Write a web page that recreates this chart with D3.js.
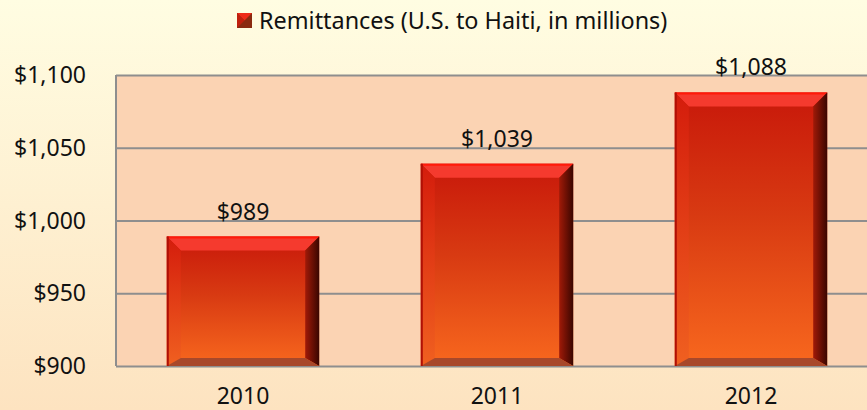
<!DOCTYPE html>
<html>
<head>
<meta charset="utf-8">
<script src="https://cdn.jsdelivr.net/npm/d3@7"></script>
<style>
  body { margin: 0; }
  text { font-family: "Noto Sans", "Open Sans", sans-serif; fill: #111; }
</style>
</head>
<body>
<svg id="chart" width="867" height="410"></svg>
<script>
(function () {
    var width = 867, height = 410

    // data
    var years = ["2010", "2011", "2012"]
    var remittances = [989, 1039, 1088]
    var yTicks = [900, 950, 1000, 1050, 1100]
    var seriesName = "Remittances (U.S. to Haiti, in millions)"

    var left = 116, top = 75, bottom = 366, right = 878
    var bev = 14, bevB = 8

    var svg = d3.select("#chart")
    var defs = svg.append("defs")

    // page background: pale yellow fading to peach
    var bg = defs.append("linearGradient").attr("id", "bg")
        .attr("x1", 0).attr("y1", 0).attr("x2", 0).attr("y2", 1)
    bg.append("stop").attr("offset", "0%").attr("stop-color", "#fffde2")
    bg.append("stop").attr("offset", "100%").attr("stop-color", "#fde3c0")

    // bar face
    var face = defs.append("linearGradient").attr("id", "face")
        .attr("x1", 0).attr("y1", 0).attr("x2", 0).attr("y2", 1)
    face.append("stop").attr("offset", "0%").attr("stop-color", "#c8180a")
    face.append("stop").attr("offset", "45%").attr("stop-color", "#d83a12")
    face.append("stop").attr("offset", "100%").attr("stop-color", "#f8681e")

    var side = defs.append("linearGradient").attr("id", "side")
        .attr("x1", 0).attr("y1", 0).attr("x2", 1).attr("y2", 0)
    side.append("stop").attr("offset", "0%").attr("stop-color", "#a01a08")
    side.append("stop").attr("offset", "100%").attr("stop-color", "#3a0600")

    var lside = defs.append("linearGradient").attr("id", "lside")
        .attr("x1", 0).attr("y1", 0).attr("x2", 0).attr("y2", 1)
    lside.append("stop").attr("offset", "0%").attr("stop-color", "#d41c0c")
    lside.append("stop").attr("offset", "100%").attr("stop-color", "#f06020")

    svg.append("rect").attr("width", width).attr("height", height).attr("fill", "url(#bg)")

    var x = d3.scaleBand()
        .domain(years)
        .range([left, right])
        .paddingInner(0.4)
        .paddingOuter(0.2)

    var y = d3.scaleLinear()
        .domain([900, 1100])
        .range([bottom, top])

    // plot area
    svg.append("rect")
        .attr("x", left).attr("y", top)
        .attr("width", right - left).attr("height", bottom - top)
        .attr("fill", "#fbd3b3")

    // gridlines
    svg.append("g")
        .attr("transform", "translate(" + left + ",0)")
        .call(d3.axisLeft(y).tickValues(yTicks).tickSize(-(right - left)).tickFormat(""))
        .call((g) => g.select(".domain").remove())
        .call((g) => g.selectAll(".tick line").attr("stroke", "#8e8e8e").attr("stroke-width", 2))

    // left edge of plot area
    svg.append("line")
        .attr("x1", left).attr("x2", left).attr("y1", top).attr("y2", bottom)
        .attr("stroke", "#8e8e8e").attr("stroke-width", 2)

    // y tick labels
    svg.append("g")
        .selectAll("text")
        .data(yTicks)
        .join("text")
        .attr("x", 86)
        .attr("y", (d) => y(d))
        .attr("dy", "0.35em")
        .attr("text-anchor", "end")
        .style("font-size", "23px")
        .text((d) => "$" + d3.format(",")(d))

    // bevelled bars
    var bars = svg.append("g")
        .selectAll("g")
        .data(years.map((d, i) => ({ year: d, value: remittances[i] })))
        .join("g")

    bars.each(function (d) {
        var g = d3.select(this)
        var x0 = x(d.year), x1 = x0 + x.bandwidth()
        var y0 = y(d.value), y1 = y(900)
        var pts = (a) => a.map((p) => p.join(",")).join(" ")
        g.append("rect").attr("x", x0).attr("y", y0)
            .attr("width", x1 - x0).attr("height", y1 - y0).attr("fill", "url(#face)")
        // top
        g.append("polygon").attr("points", pts([[x0, y0], [x1, y0], [x1 - bev, y0 + bev], [x0 + bev, y0 + bev]]))
            .attr("fill", "#f53a2e")
        g.append("line").attr("x1", x0).attr("x2", x1).attr("y1", y0 + 1).attr("y2", y0 + 1)
            .attr("stroke", "#ff1a0a").attr("stroke-width", 2)
        // left
        g.append("polygon").attr("points", pts([[x0, y0], [x0 + bev, y0 + bev], [x0 + bev, y1 - bevB], [x0, y1]]))
            .attr("fill", "url(#lside)")
        // right
        g.append("polygon").attr("points", pts([[x1, y0], [x1 - bev, y0 + bev], [x1 - bev, y1 - bevB], [x1, y1]]))
            .attr("fill", "url(#side)")
        // bottom
        g.append("polygon").attr("points", pts([[x0, y1], [x0 + bev, y1 - bevB], [x1 - bev, y1 - bevB], [x1, y1]]))
            .attr("fill", "#a8482a")
        g.append("line").attr("x1", x0 + 1).attr("x2", x0 + 1).attr("y1", y0).attr("y2", y1)
            .attr("stroke", "#b01006").attr("stroke-width", 2)
    })

    // value labels
    bars.append("text")
        .attr("x", (d) => x(d.year) + x.bandwidth() / 2)
        .attr("y", (d) => y(d.value) - 17)
        .attr("text-anchor", "middle")
        .style("font-size", "23px")
        .text((d) => "$" + d3.format(",")(d.value))

    // category labels
    svg.append("g")
        .selectAll("text")
        .data(years)
        .join("text")
        .attr("x", (d) => x(d) + x.bandwidth() / 2)
        .attr("y", 404)
        .attr("text-anchor", "middle")
        .style("font-size", "23px")
        .text((d) => d)

    // legend
    var legend = svg.append("g").attr("transform", "translate(237,13)")
    legend.append("rect").attr("width", 15).attr("height", 15).attr("fill", "#8a2a10")
    legend.append("polygon").attr("points", "0,0 15,0 7.5,7.5").attr("fill", "#ee2a18")
    legend.append("polygon").attr("points", "0,0 0,15 7.5,7.5").attr("fill", "#c0200e")
    legend.append("text")
        .attr("x", 22).attr("y", 8).attr("dy", "0.35em")
        .style("font-size", "23.4px")
        .text(seriesName)
})();
</script>
</body>
</html>
